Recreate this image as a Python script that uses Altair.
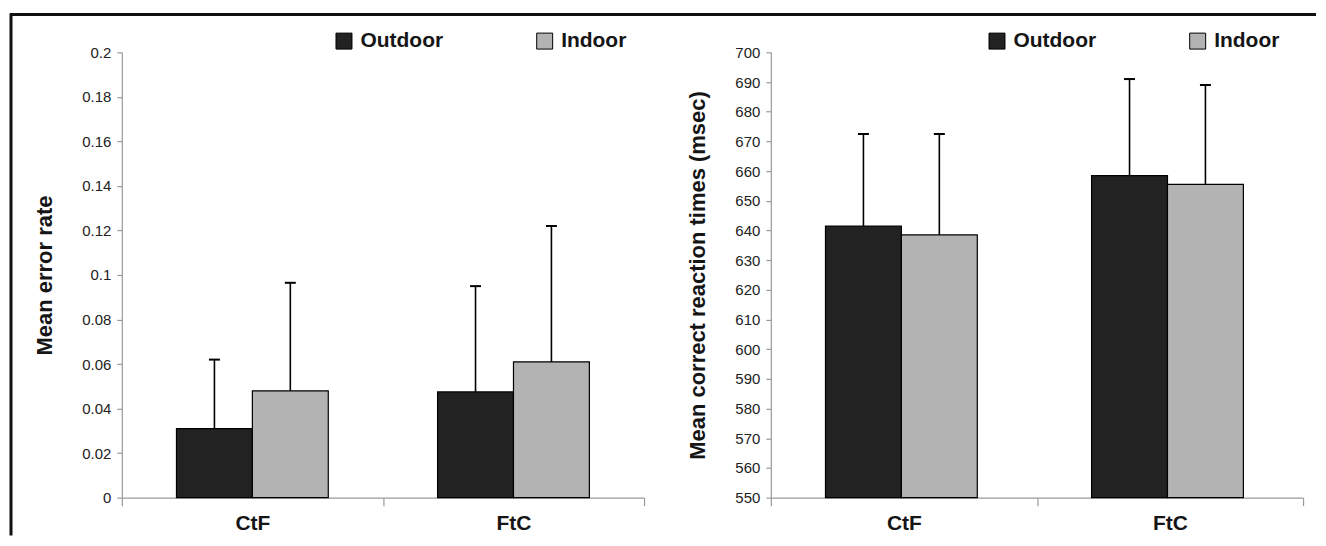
import altair as alt
import pandas as pd

conditions = ["CtF", "FtC"]
series = ["Outdoor", "Indoor"]
series_colors = ["#222222", "#b3b3b3"]

# Mean error rate (left panel)
error_outdoor = [0.031, 0.0475]
error_indoor = [0.048, 0.061]
error_outdoor_upper = [0.062, 0.095]
error_indoor_upper = [0.0965, 0.122]
error_ticks = [0, 0.02, 0.04, 0.06, 0.08, 0.1, 0.12, 0.14, 0.16, 0.18, 0.2]

# Mean correct reaction times (right panel)
rt_outdoor = [641.5, 658.5]
rt_indoor = [638.5, 655.5]
rt_outdoor_upper = [672.5, 691.0]
rt_indoor_upper = [672.5, 689.0]
rt_ticks = [550, 560, 570, 580, 590, 600, 610, 620, 630, 640, 650, 660, 670, 680, 690, 700]

FONT = "Liberation Sans"
AXIS_GRAY = "#9a9a9a"
TEXT = "#151515"


def make_df(out_vals, in_vals, out_up, in_up):
    rows = []
    for i, c in enumerate(conditions):
        rows.append({"condition": c, "series": "Outdoor", "value": out_vals[i], "upper": out_up[i]})
        rows.append({"condition": c, "series": "Indoor", "value": in_vals[i], "upper": in_up[i]})
    return pd.DataFrame(rows)


def panel(df, ticks, fmt, title, width, legend_x, frame=False):
    ymin, ymax = ticks[0], ticks[-1]
    base = alt.Chart(df)
    x = alt.X(
        "condition:N",
        sort=conditions,
        scale=alt.Scale(paddingInner=0, paddingOuter=0),
        axis=alt.Axis(
            title=None, labelAngle=0, tickBand="extent",
            labelFont=FONT, labelFontSize=21, labelFontWeight="bold", labelColor=TEXT,
            domainColor=AXIS_GRAY, tickColor=AXIS_GRAY, tickSize=8, labelPadding=7,
            domainWidth=1.2, tickWidth=1.2,
        ),
    )
    xo = alt.XOffset("series:N", sort=series, scale=alt.Scale(paddingOuter=0.72, paddingInner=0))
    y = alt.Y(
        "value:Q",
        scale=alt.Scale(domain=[ymin, ymax], nice=False, zero=False),
        axis=alt.Axis(
            title=title, values=ticks, tickCount=len(ticks), format=fmt, grid=False,
            labelOverlap=False,
            labelFont=FONT, labelFontSize=15, labelColor="#222222",
            domainColor=AXIS_GRAY, tickColor=AXIS_GRAY, tickSize=5, labelPadding=6,
            domainWidth=1.2, tickWidth=1.2,
            titleFont=FONT, titleFontSize=22, titleFontWeight="bold", titleColor=TEXT,
            titlePadding=25,
        ),
    )
    color = alt.Color(
        "series:N",
        sort=series,
        scale=alt.Scale(domain=series, range=series_colors),
        legend=alt.Legend(
            title=None, orient="none", legendX=legend_x, legendY=-22,
            direction="horizontal", symbolType="square", symbolSize=256,
            symbolStrokeColor="black", symbolStrokeWidth=1, symbolOpacity=1,
            labelFont=FONT, labelFontSize=21, labelFontWeight="bold", labelColor=TEXT,
            columnPadding=91, labelOffset=6, padding=0,
        ),
    )
    bars = base.mark_bar(stroke="black", strokeWidth=1.2).encode(
        x=x, xOffset=xo, y=y, y2=alt.datum(ymin), color=color
    )
    rules = base.mark_rule(color="black", strokeWidth=1.6).encode(
        x=x, xOffset=xo, y="value:Q", y2="upper:Q"
    )
    caps = base.mark_tick(color="black", size=11, thickness=2, orient="horizontal", opacity=1).encode(
        x=x, xOffset=xo, y="upper:Q"
    )
    layers = [bars, rules, caps]
    if frame:
        fdf = pd.DataFrame({"k": [0]})
        top = alt.Chart(fdf).mark_rule(color="#111111", strokeWidth=3).encode(
            x=alt.value(-112), x2=alt.value(1196), y=alt.value(-38)
        )
        left = alt.Chart(fdf).mark_rule(color="#111111", strokeWidth=3).encode(
            x=alt.value(-111), y=alt.value(-39), y2=alt.value(484)
        )
        layers += [top, left]
    return alt.layer(*layers).properties(width=width, height=446)


left_df = make_df(error_outdoor, error_indoor, error_outdoor_upper, error_indoor_upper)
right_df = make_df(rt_outdoor, rt_indoor, rt_outdoor_upper, rt_indoor_upper)

left = panel(left_df, error_ticks, "~g", "Mean error rate", 523, 212, frame=True)
right = panel(right_df, rt_ticks, "d", "Mean correct reaction times (msec)", 533, 216)

chart = (
    alt.HConcatChart(hconcat=[left, right], bounds="flush", spacing=127)
    .resolve_scale(color="independent", x="independent", y="independent")
    .resolve_legend(color="independent")
    .properties(padding={"left": 0, "top": 3, "right": 0, "bottom": 0}, background="white")
    .configure_view(stroke=None)
)

chart.save("out.html", embed_options={"renderer": "svg", "actions": False})
